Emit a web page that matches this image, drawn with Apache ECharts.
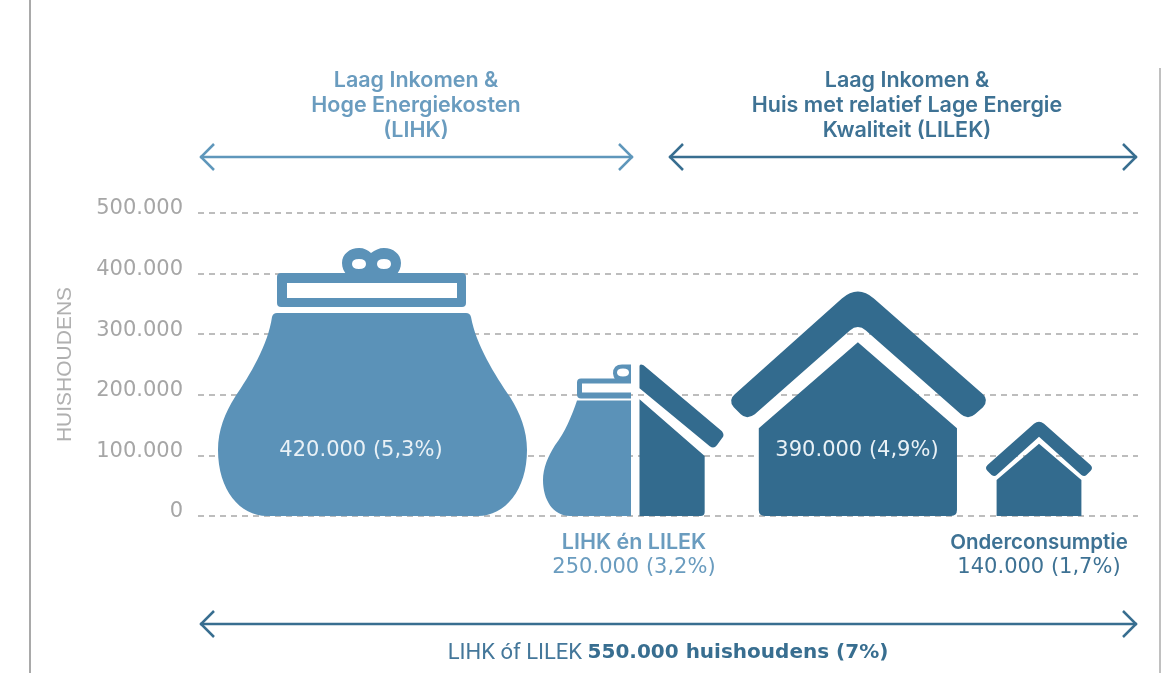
<!DOCTYPE html>
<html>
<head>
<meta charset="utf-8">
<style>
  html, body { margin: 0; padding: 0; background: #fff; }
  #main { width: 1168px; height: 673px; }
</style>
<script src="https://cdn.jsdelivr.net/npm/echarts@6/dist/echarts.min.js"></script>
</head>
<body>
<div id="main"></div>
<script>
var categories = ['LIHK', 'LIHK en LILEK', 'LILEK', 'Onderconsumptie'];
var purseValues = [420000, 250000, null, null];
var houseValues = [null, 250000, 390000, 140000];
var tickValues = [0, 100000, 200000, 300000, 400000, 500000];
var leftTitle = ['Laag Inkomen &', 'Hoge Energiekosten', '(LIHK)'];
var rightTitle = ['Laag Inkomen &', 'Huis met relatief Lage Energie', 'Kwaliteit (LILEK)'];

var purseColor = '#5b92b8';
var houseColor = '#336b8e';

// icon outlines, they get stretched to the size given in the symbol styles below
var bigPurse = 'path://M277 313 L466 313 Q470 313 471 317 C476 345 495 375 510 397 C520 413 527 430 527 450 C527 490 505 516 478 516 L267 516 C240 516 218 490 218 450 C218 430 225 413 235 397 C250 375 268 345 272 317 Q273 313 277 313 Z ' +
    'M281 273 L462 273 Q466 273 466 277 L466 303 Q466 307 462 307 L281 307 Q277 307 277 303 L277 277 Q277 273 281 273 Z M287 283 L287 298 L457 298 L457 283 Z ' +
    'M342 263 C342 254 350 248 359 248 C364 248 368 250 371 253 C375 250 379 248 384 248 C393 248 401 254 401 263 C401 268 399 272 396 275 L347 275 C344 272 342 268 342 263 Z ' +
    'M352 264 Q352 269 359 269 Q366 269 366 264 Q366 259 359 259 Q352 259 352 264 Z M377 264 Q377 269 384 269 Q391 269 391 264 Q391 259 384 259 Q377 259 377 264 Z';
var halfPurse = 'path://M631 400 L631 516 L570 516 C553 516 543 500 543 480 C543 468 548 456 555 445 C565 432 572 415 577 400 Z ' +
    'M631 378 L631 398 L581 398 Q577 398 577 394 L577 382 Q577 378 581 378 Z M582 383 L582 392 L631 392 L631 383 Z ' +
    'M622 364 L631 364 L631 380 L616 380 Q613 376 613 373 Q613 364 622 364 Z M617 372 Q617 376 623 376 Q629 376 629 372 Q629 368 623 368 Q617 368 617 372 Z';
var halfHouse = 'path://M640 366 Q640 363 644 365 L721 431 Q724 435 721 438 L716 445 Q713 449 709 446 L640 388 Z ' +
    'M640 399 L704 456 L704 512 Q704 516 700 516 L640 516 Z';
var bigHouse = 'path://M842 298 Q858 284 874 298 L983 394 Q989 400 983 407 L975 414 Q968 420 961 414 L866 330 Q858 323 850 330 L755 414 Q747 420 741 414 L734 407 Q728 400 735 394 Z ' +
    'M858 342 L957 428 L957 510 Q957 516 951 516 L765 516 Q759 516 759 510 L759 428 Z';
var smallHouse = 'path://M1034 424 Q1039 420 1044 424 L1090 465 Q1093 468 1090 471 L1086 475 Q1084 477 1081 475 L1039 437 L997 475 Q995 477 992 475 L988 471 Q985 468 988 465 Z ' +
    'M1039 444 L1081 480 L1081 516 L997 516 L997 480 Z';

var purseSymbols = [
    { symbol: bigPurse, symbolSize: [309, '105.3%'], symbolOffset: [57, 0] },
    { symbol: halfPurse, symbolSize: [88, '100%'], symbolOffset: [36.5, 0] }
];
var houseSymbols = [
    null,
    { symbol: halfHouse, symbolSize: [84, '100%'], symbolOffset: [131, 0] },
    { symbol: bigHouse, symbolSize: [255, '95%'], symbolOffset: [73, 0] },
    { symbol: smallHouse, symbolSize: [106, '111%'], symbolOffset: [18.5, 0] }
];

function toItems(values, symbols) {
    return values.map(function (v, i) {
        if (v === null) return null;
        return Object.assign({ value: v }, symbols[i]);
    });
}

function arrow(x1, x2, y, color) {
    var w = 2.5;
    return {
        type: 'group',
        silent: true,
        children: [
            { type: 'line', shape: { x1: x1, y1: y, x2: x2, y2: y }, style: { stroke: color, lineWidth: w } },
            { type: 'polyline', shape: { points: [[x1 + 14, y - 13], [x1 + 1, y], [x1 + 14, y + 13]] }, style: { stroke: color, lineWidth: w, fill: null } },
            { type: 'polyline', shape: { points: [[x2 - 14, y - 13], [x2 - 1, y], [x2 - 14, y + 13]] }, style: { stroke: color, lineWidth: w, fill: null } }
        ]
    };
}

function label(text, x, y, color, size, weight, family) {
    return {
        type: 'text',
        silent: true,
        x: x,
        y: y,
        z: 10,
        style: {
            text: text,
            fill: color,
            font: (weight || 'normal') + ' ' + size + 'px ' + (family || '"DejaVu Sans"'),
            textAlign: 'center',
            textVerticalAlign: 'middle'
        }
    };
}

var titleFont = 'Inter';
var graphics = [
    { type: 'line', silent: true, shape: { x1: 30, y1: 0, x2: 30, y2: 673 }, style: { stroke: '#a9a9a9', lineWidth: 2 } },
    { type: 'line', silent: true, shape: { x1: 1160, y1: 68, x2: 1160, y2: 673 }, style: { stroke: '#c0c0c0', lineWidth: 2 } },
    arrow(200, 633, 157, '#5f97bb'),
    arrow(669, 1137, 157, '#386e90'),
    arrow(200, 1137, 624, '#386e90')
];
var titleY = [80.5, 105.5, 130.5];
leftTitle.forEach(function (t, i) {
    graphics.push(label(t, 416, titleY[i], '#6a9cbf', 21.5, 600, titleFont));
});
rightTitle.forEach(function (t, i) {
    graphics.push(label(t, 907, titleY[i], '#3e7294', 21.5, 600, titleFont));
});
graphics.push(label('420.000 (5,3%)', 361, 451, '#e9f1f6', 21));
graphics.push(label('390.000 (4,9%)', 857, 451, '#e9f1f6', 21));
graphics.push(label('LIHK én LILEK', 634, 543, '#6a9cbf', 21.5, 600, titleFont));
graphics.push(label('250.000 (3,2%)', 634, 568, '#6a9cbf', 21));
graphics.push(label('Onderconsumptie', 1039, 543, '#3e7294', 20.5, 600, titleFont));
graphics.push(label('140.000 (1,7%)', 1039, 568, '#3e7294', 21));
graphics.push({
    type: 'text',
    silent: true,
    x: 668,
    y: 653,
    style: {
        rich: {
            a: { fill: '#44779a', font: 'normal 22px Roboto' },
            b: { fill: '#386e90', font: 'bold 20px "DejaVu Sans"' }
        },
        text: '{a|LIHK óf LILEK }{b|550.000 huishoudens (7%)}',
        textAlign: 'center',
        textVerticalAlign: 'middle'
    }
});

var chart = echarts.init(document.getElementById('main'));
chart.setOption({
    animation: false,
    backgroundColor: '#fff',
    grid: { left: 198, right: 30, top: 213, bottom: 157 },
    xAxis: {
        type: 'category',
        data: categories,
        axisLine: { show: false },
        axisTick: { show: false },
        axisLabel: { show: false }
    },
    yAxis: {
        type: 'value',
        min: 0,
        max: 500000,
        interval: 100000,
        name: 'HUISHOUDENS',
        nameLocation: 'middle',
        nameGap: 122,
        nameTextStyle: { color: '#b0b0b0', fontSize: 21, fontFamily: 'Liberation Sans' },
        axisLine: { show: false },
        axisTick: { show: false },
        axisLabel: {
            color: '#a6a6a6',
            fontSize: 21,
            fontFamily: 'DejaVu Sans',
            margin: 15,
            verticalAlign: 'bottom',
            lineHeight: 8,
            formatter: function (v) {
                return tickValues.indexOf(v) > -1 ? String(v).replace(/\B(?=(\d{3})+$)/g, '.') : '';
            }
        },
        splitLine: { lineStyle: { color: '#a8a8a8', type: [6, 5], width: 1.6 } }
    },
    series: [
        {
            name: 'LIHK',
            type: 'pictorialBar',
            barGap: '-100%',
            symbolPosition: 'start',
            itemStyle: { color: purseColor },
            data: toItems(purseValues, purseSymbols)
        },
        {
            name: 'LILEK',
            type: 'pictorialBar',
            barGap: '-100%',
            symbolPosition: 'start',
            itemStyle: { color: houseColor },
            data: toItems(houseValues, houseSymbols)
        }
    ],
    graphic: graphics
});
window.onresize = function () {
    chart.resize();
};
</script>
</body>
</html>
